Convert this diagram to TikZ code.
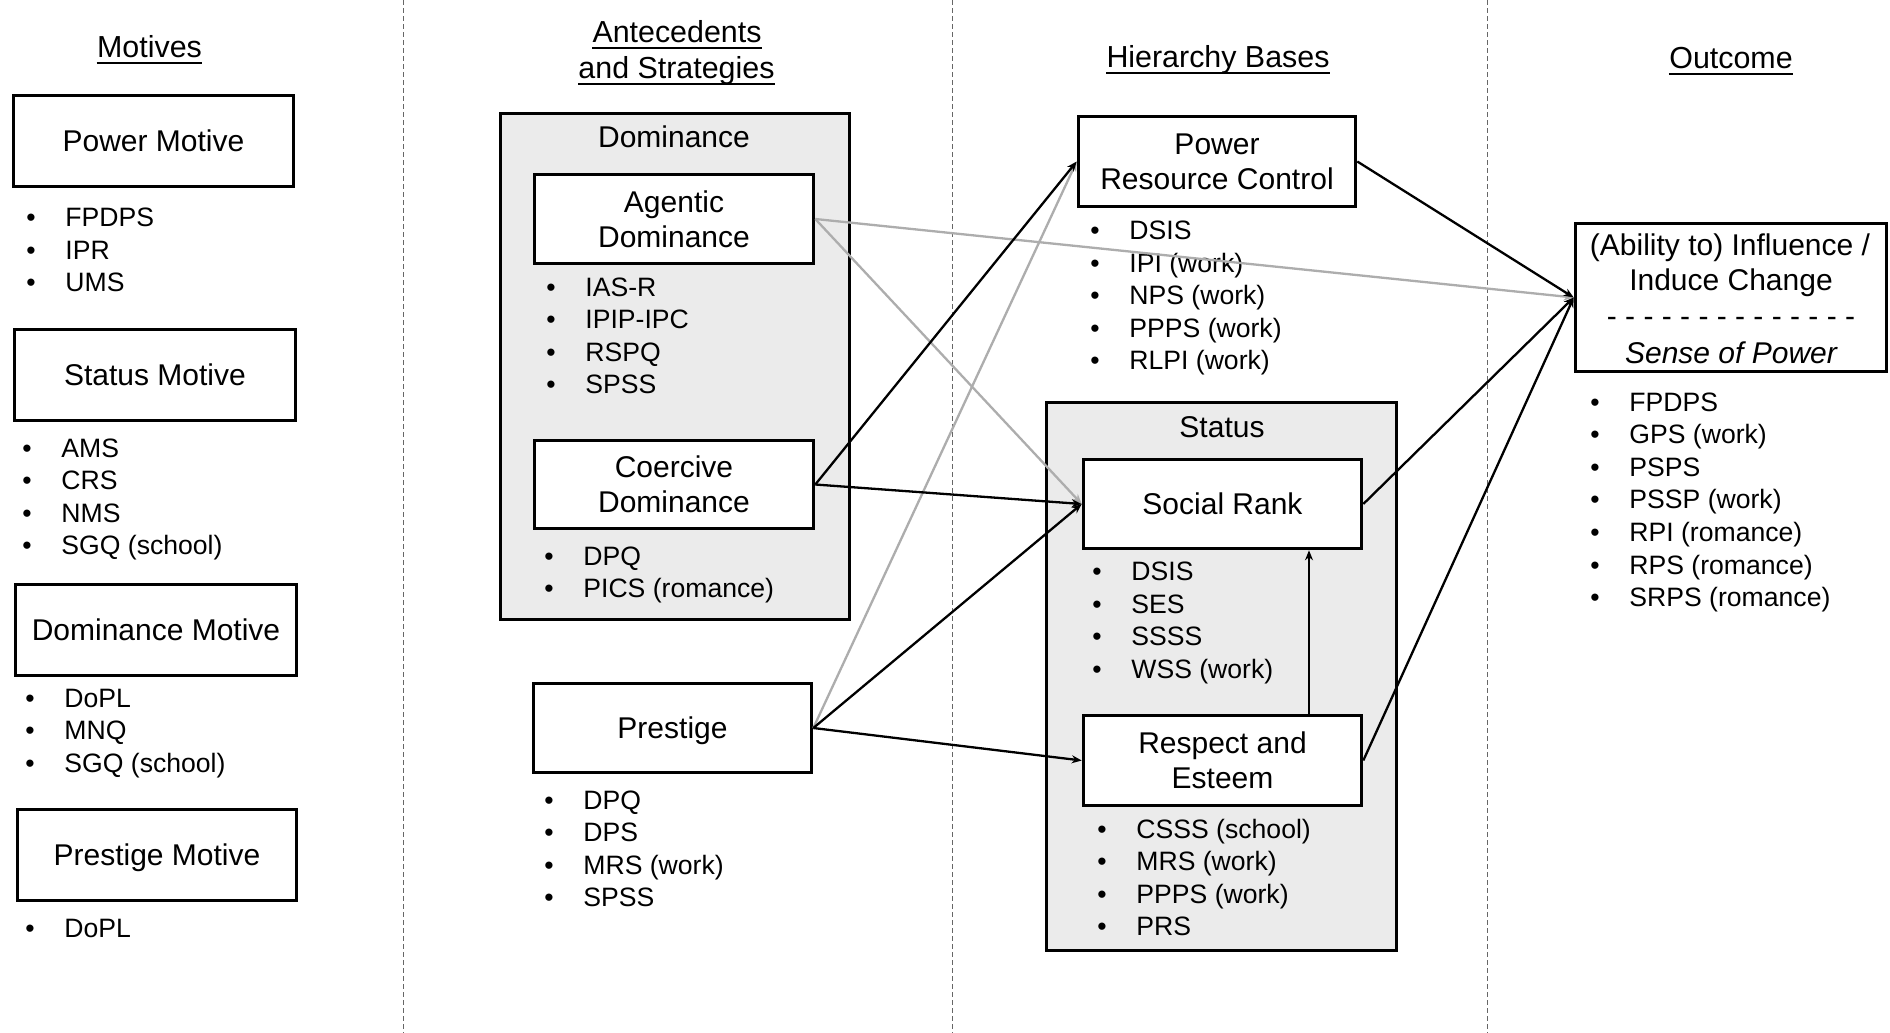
\documentclass[tikz,border=0pt]{standalone}
\usepackage{fontspec}
\setmainfont{Liberation Sans}
\usetikzlibrary{arrows.meta}
\newcommand\myboxfont{\fontsize{15pt}{17.5pt}\selectfont}
\newcommand\myhdrfont{\fontsize{15.2pt}{18pt}\selectfont}
\newcommand\mylistfont{\fontsize{13.3pt}{16pt}\selectfont}
\tikzset{
  bx/.style={draw, line width=1.8pt, fill=white, inner sep=0pt, align=center, font=\myboxfont},
  onebx/.style={bx, text depth=0pt},
  grp/.style={draw, line width=1.6pt, fill=black!8, inner sep=0pt},
  grptitle/.style={anchor=base, inner sep=0pt, font=\myboxfont},
  hdr/.style={anchor=base, inner sep=0pt, font=\myhdrfont},
  otxt/.style={anchor=base, inner sep=0pt, font=\myboxfont},
  bul/.style={anchor=base, inner sep=0pt, font=\mylistfont},
  itm/.style={anchor=base west, inner sep=0pt, font=\mylistfont},
  uline/.style={line width=1.1pt},
  sepline/.style={line width=0.5pt, draw=black!60, dash pattern=on 2.5pt off 1.5pt},
  arr/.style={line width=1.15pt, -{Stealth[length=5pt,width=4pt]}},
  garr/.style={arr, draw=black!32, fill=black!32},
}
\newcommand\bulletlist[4]{%
  \foreach \t [count=\i from 0] in {#4} {
    \node[bul] (#1b\i) at (#2, {#3+\i*32.6}) {\textbullet};
    \node[itm] (#1t\i) at ({#2+34}, {#3+\i*32.6}) {\t};
  }%
}
\begin{document}
\begin{tikzpicture}[x=0.5pt,y=-0.5pt]
\useasboundingbox (0,0) rectangle (1890,1033);
\fill[white] (0,0) rectangle (1890,1033);

% column separators
\draw[sepline] (403,0) -- (403,1033);
\draw[sepline] (952,0) -- (952,1033);
\draw[sepline] (1487,0) -- (1487,1033);

% headers
\node[hdr] (hmot) at (149.5,57) {Motives};
\node[hdr] (hant1) at (677,42) {Antecedents};
\node[hdr] (hant2) at (676.5,78) {and Strategies};
\node[hdr] (hhb) at (1218,67) {Hierarchy Bases};
\node[hdr] (hout) at (1731,68) {Outcome};
\foreach \h in {hmot,hant1,hant2,hhb,hout}
  \draw[uline] ([yshift=-2.8pt]\h.base west) -- ([yshift=-2.8pt]\h.base east);

% motives column
\node[onebx, minimum width=140pt, minimum height=45.5pt] (pm) at (153.5,141) {Power Motive};
\bulletlist{pml}{31}{226.5}{FPDPS, IPR, UMS}
\node[onebx, minimum width=140.5pt, minimum height=45.5pt] (sm) at (155,375) {Status Motive};
\bulletlist{sml}{27}{457}{AMS, CRS, NMS, SGQ (school)}
\node[onebx, minimum width=140.5pt, minimum height=45.5pt] (dm) at (156,630) {Dominance Motive};
\bulletlist{dml}{30}{707}{DoPL, MNQ, SGQ (school)}
\node[onebx, minimum width=139.5pt, minimum height=45.5pt] (prm) at (157,855) {Prestige Motive};
\bulletlist{prml}{30}{937}{DoPL}

% antecedents column
\node[grp, minimum width=174.5pt, minimum height=253pt] (domg) at (675,366.5) {};
\node[grptitle] (domt) at (674,147) {Dominance};
\node[bx, minimum width=139.5pt, minimum height=44.5pt] (ag) at (674,219) {Agentic\\Dominance};
\bulletlist{agl}{551}{296}{IAS-R, IPIP-IPC, RSPQ, SPSS}
\node[bx, minimum width=139.5pt, minimum height=44pt] (co) at (674,484.5) {Coercive\\Dominance};
\bulletlist{col}{549}{565}{DPQ, PICS (romance)}
\node[onebx, minimum width=139pt, minimum height=44.5pt] (pr) at (672.5,728) {Prestige};
\bulletlist{prl}{549}{809}{DPQ, DPS, MRS (work), SPSS}

% hierarchy bases column
\node[bx, minimum width=138.5pt, minimum height=45pt] (prc) at (1217,161.5) {Power\\Resource Control};
\bulletlist{prcl}{1095}{239.5}{DSIS, IPI (work), NPS (work), PPPS (work), RLPI (work)}
\node[grp, minimum width=175pt, minimum height=274pt] (stg) at (1221.5,676.5) {};
\node[grptitle] (stt) at (1222,437) {Status};
\node[onebx, minimum width=139pt, minimum height=44.5pt] (sr) at (1222.5,504) {Social Rank};
\bulletlist{srl}{1097}{580.5}{DSIS, SES, SSSS, WSS (work)}
\node[bx, minimum width=139pt, minimum height=45pt] (re) at (1222.5,760.5) {Respect and\\Esteem};
\bulletlist{rel}{1102}{838}{CSSS (school), MRS (work), PPPS (work), PRS}

% outcome column
\node[bx, minimum width=155.5pt, minimum height=74pt] (out) at (1731,297.5) {};
\node[otxt] (out1) at (1730,255) {(Ability to) Influence /};
\node[otxt] (out2) at (1731,290) {Induce Change};
\node[otxt] (out3) at (1731,326) {- - - - - - - - - - - - - -};
\node[otxt, font=\myboxfont\itshape] (out4) at (1731,363) {Sense of Power};
\bulletlist{outl}{1595}{411}{FPDPS, GPS (work), PSPS, PSSP (work), RPI (romance), RPS (romance), SRPS (romance)}

% connectors
\draw[garr] (ag.east) -- (out.west);
\draw[garr] (ag.east) -- (sr.west);
\draw[garr] (pr.east) -- (prc.west);
\draw[arr] (co.east) -- (prc.west);
\draw[arr] (co.east) -- (sr.west);
\draw[arr] (pr.east) -- (sr.west);
\draw[arr] (pr.east) -- (re.west);
\draw[arr] (prc.east) -- (out.west);
\draw[arr] (sr.east) -- (out.west);
\draw[arr] (re.east) -- (out.west);
\draw[arr] ([xshift=43.25pt]re.north) -- ([xshift=43.25pt]sr.south);
\end{tikzpicture}
\end{document}
